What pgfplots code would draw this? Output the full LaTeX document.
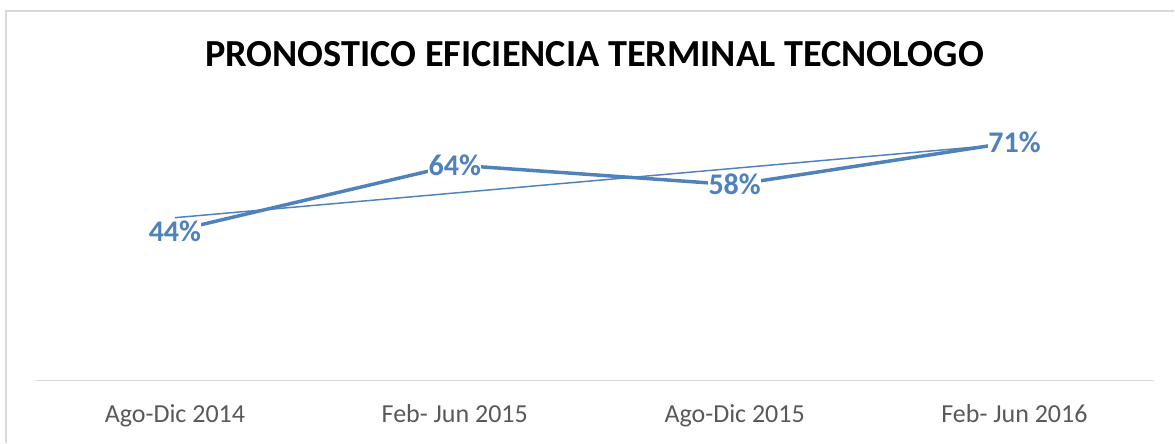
\documentclass[border=0pt]{standalone}
\usepackage{pgfplots}
\pgfplotsset{compat=1.18}
\usepackage{fontspec}
\setmainfont{Carlito}
\definecolor{lineblue}{HTML}{4F81BD}
\definecolor{gridgray}{HTML}{D9D9D9}
\definecolor{txtgray}{HTML}{595959}
\begin{document}
\begin{tikzpicture}[x=0.75pt,y=0.75pt]
\path[fill=white] (0,0) rectangle (1175,443);
\draw[gridgray, line width=0.9pt] (6,0) -- (6,432) -- (1175,432);
\node[anchor=base, inner sep=0pt, font=\fontsize{28.7}{32}\selectfont\bfseries] at (595,376) {PRONOSTICO EFICIENCIA TERMINAL TECNOLOGO};
\begin{axis}[
  at={(26.25pt,46.8pt)}, anchor=south west,
  width=840pt, height=201.2pt, scale only axis,
  xmin=-0.5, xmax=3.5, ymin=-0.014, ymax=0.8,
  axis x line*=bottom, axis y line=none,
  x axis line style={gridgray, line width=0.9pt, -},
  xtick={0,1,2,3},
  xticklabels={Ago-Dic 2014, Feb- Jun 2015, Ago-Dic 2015, Feb- Jun 2016},
  major tick length=0pt,
  xticklabel style={anchor=base, yshift=-31.8pt, text=txtgray, font=\fontsize{19.5}{22}\selectfont},
  clip=false,
]
\addplot[lineblue, line width=2.6pt, line join=round,
  nodes near coords, point meta=explicit symbolic,
  every node near coord/.append style={anchor=center, fill=white, inner sep=0.3pt, text=lineblue, font=\fontsize{22.5}{24}\selectfont\bfseries}]
  coordinates {(0,0.44) [44\%] (1,0.64) [64\%] (2,0.58) [58\%] (3,0.71) [71\%]};
\addplot[lineblue, line width=1.1pt] coordinates {(0,0.48) (3,0.705)};
\end{axis}
\end{tikzpicture}
\end{document}
